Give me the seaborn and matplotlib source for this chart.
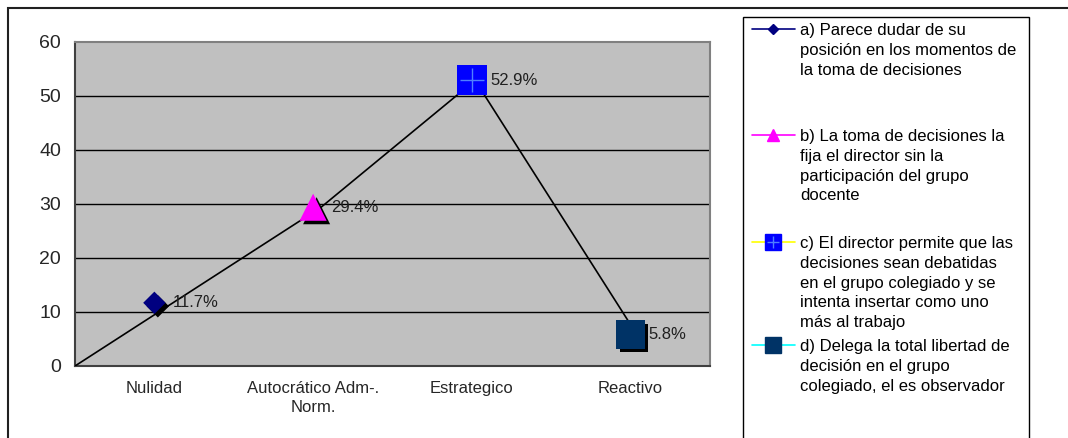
import numpy as np
import matplotlib
matplotlib.use("Agg")
import matplotlib.pyplot as plt
import matplotlib.patheffects as pe
from matplotlib.lines import Line2D
from matplotlib.patches import Rectangle
import seaborn as sns

# data
categories = ["Nulidad", "Autocrático Adm-.\nNorm.", "Estrategico", "Reactivo"]
values = [11.7, 29.4, 52.9, 5.8]
# the black connecting line (its own series in the original)
line_x = [0.0, 1.55, 2.52, 3.54]
line_y = [0.0, 29.4, 52.9, 5.8]

legend_labels = [
    "a) Parece dudar de su\nposición en los momentos de\nla toma de decisiones",
    "b) La toma de decisiones la\nfija el director sin la\nparticipación del grupo\ndocente",
    "c) El director permite que las\ndecisiones sean debatidas\nen el grupo colegiado y se\nintenta insertar como uno\nmás al trabajo",
    "d) Delega la total libertad de\ndecisión en el grupo\ncolegiado, el es observador",
]
marker_colors = ["#000080", "#FF00FF", "#0000FF", "#003366"]
legend_line_colors = ["#000080", "#FF00FF", "#FFFF00", "#00FFFF"]
markers = ["D", "^", "s", "s"]
marker_sizes = [130, 380, 470, 420]
shadow = [True, True, False, True]

sns.set_style("white")
plt.rcParams["font.family"] = ["Liberation Sans", "DejaVu Sans"]

W, H = 1068, 438
fig = plt.figure(figsize=(W / 100, H / 100), dpi=100)
ax = fig.add_axes([75 / W, 1 - 366 / H, 635 / W, 324 / H])
ax.set_facecolor("#C0C0C0")

cat_x = np.arange(len(categories)) + 0.5

# gridlines
for y in range(10, 60, 10):
    ax.axhline(y, color="black", lw=1, zorder=1)

sns.lineplot(x=line_x, y=line_y, color="black", lw=1.2, ax=ax, zorder=3,
             sort=False, estimator=None)

for i, v in enumerate(values):
    kw = {}
    if shadow[i]:
        kw["path_effects"] = [pe.SimplePatchShadow(offset=(2.5, -2.5), shadow_rgbFace="black", alpha=1),
                              pe.Normal()]
    sns.scatterplot(x=[cat_x[i]], y=[v], marker=markers[i], s=marker_sizes[i],
                    color=marker_colors[i], edgecolor="none", ax=ax, zorder=4, **kw)
    ax.annotate(f"{v}%", (cat_x[i], v), xytext=(13, 0), textcoords="offset points",
                va="center", ha="left", fontsize=12, color="#202020", zorder=5)

# light cross inside the blue square
sns.scatterplot(x=[cat_x[2]], y=[values[2]], marker="+", s=300, color="#4F7FFF",
                linewidth=1, ax=ax, zorder=5)

ax.set_xlim(0, 4)
ax.set_ylim(0, 60)
ax.set_yticks(range(0, 61, 10))
ax.set_xticks(range(0, 5))
ax.set_xticklabels([])
ax.set_xticks(cat_x, minor=True)
ax.set_xticklabels(categories, minor=True, fontsize=12, linespacing=1.35)
ax.tick_params(axis="x", which="major", direction="out", length=5, width=1, color="#404040")
ax.tick_params(axis="x", which="minor", length=0, pad=11)
ax.tick_params(axis="y", direction="out", length=6, width=1, color="#404040",
               labelsize=14, pad=4)
for side in ["top", "right"]:
    ax.spines[side].set_color("#808080")
    ax.spines[side].set_linewidth(1.5)
for side in ["left", "bottom"]:
    ax.spines[side].set_color("#404040")
    ax.spines[side].set_linewidth(1.5)
ax.set_xlabel("")
ax.set_ylabel("")

# outer chart border
fig.add_artist(Rectangle((8 / W, -0.1), 1.2, 1 - 8 / H + 0.1, transform=fig.transFigure,
                         fill=False, edgecolor="#202020", lw=1.5))
# legend box
fig.add_artist(Rectangle((743 / W, -0.1), (1029 - 743) / W, 1 - 17 / H + 0.1,
                         transform=fig.transFigure, fill=False, edgecolor="black", lw=1))

entry_y = [29, 135, 242, 345]
hmark = [5, 8, 11, 11]
for i, lab in enumerate(legend_labels):
    yy = 1 - entry_y[i] / H
    fig.add_artist(Line2D([752 / W, 795 / W], [yy, yy], transform=fig.transFigure,
                          color=legend_line_colors[i], lw=1.2))
    fig.add_artist(Line2D([773 / W], [yy], transform=fig.transFigure, marker=markers[i],
                          markersize=hmark[i], color=marker_colors[i], lw=0))
    if i == 2:
        fig.add_artist(Line2D([773 / W], [yy], transform=fig.transFigure, marker="+",
                              markersize=9, color="#4F7FFF", lw=0, markeredgewidth=1))
    fig.text(800 / W, 1 - (entry_y[i] - 6) / H, lab, ha="left", va="top",
             fontsize=12, linespacing=1.4, color="black")

fig.savefig("out.png", dpi=100)
